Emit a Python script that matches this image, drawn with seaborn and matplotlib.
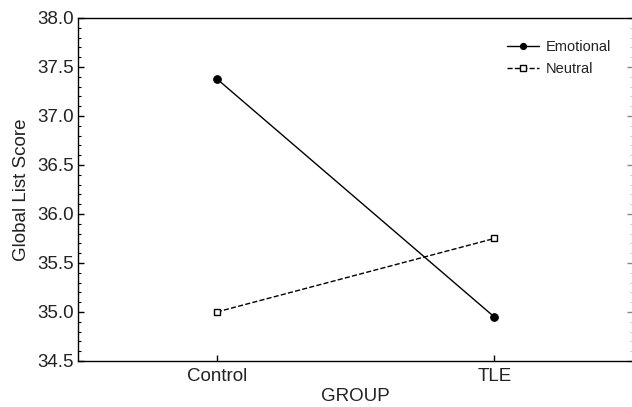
import matplotlib
matplotlib.use("Agg")
import matplotlib.pyplot as plt
import seaborn as sns
import pandas as pd
from matplotlib.ticker import MultipleLocator

groups = ["Control", "TLE"]
emotional = [37.38, 34.95]
neutral = [35.0, 35.75]

sns.set_theme(style="white")
plt.rcParams['font.family'] = ['Liberation Sans', 'DejaVu Sans']

fig = plt.figure(figsize=(6.32, 4.07), dpi=100)
ax = fig.add_axes([78/632, 1-361/407, (633-78)/632, (361-18)/407])

df_e = pd.DataFrame({"GROUP": groups, "score": emotional})
df_n = pd.DataFrame({"GROUP": groups, "score": neutral})

sns.lineplot(data=df_e, x="GROUP", y="score", ax=ax, color="black", lw=1,
             marker="o", markersize=5.5, markerfacecolor="black", markeredgecolor="black",
             label="Emotional", sort=False)
sns.lineplot(data=df_n, x="GROUP", y="score", ax=ax, color="black", lw=1,
             linestyle="--", dashes=(5, 3), marker="s", markersize=5,
             markerfacecolor="white", markeredgecolor="black", markeredgewidth=1,
             label="Neutral", sort=False)

ax.set_xlim(-0.5, 1.5)
ax.set_ylim(34.5, 38.0)
ax.yaxis.set_major_locator(MultipleLocator(0.5))
ax.yaxis.set_minor_locator(MultipleLocator(0.1))
ax.yaxis.set_major_formatter(matplotlib.ticker.FormatStrFormatter('%.1f'))

for s in ["left", "bottom", "top"]:
    ax.spines[s].set_visible(True)
    ax.spines[s].set_color("black")
    ax.spines[s].set_linewidth(1)
ax.spines["right"].set_visible(False)

ax.tick_params(axis="y", which="major", direction="in", length=4, width=1, color="black",
               left=True, right=False, labelsize=13.5, pad=3, labelcolor="#222222")
ax.tick_params(axis="y", which="minor", direction="in", length=2, width=0.8, color="black",
               left=True, right=False)
ax.tick_params(axis="x", which="major", direction="in", length=4, width=1, color="black",
               bottom=True, top=False, labelsize=13.5, pad=5, labelcolor="#222222")

# faint right-side ticks
ax2 = ax.secondary_yaxis("right")
ax2.spines["right"].set_visible(False)
ax2.yaxis.set_major_locator(MultipleLocator(0.5))
ax2.yaxis.set_minor_locator(MultipleLocator(0.1))
ax2.tick_params(axis="y", which="major", direction="in", length=4, width=1, color="#888888",
                labelright=False)
ax2.tick_params(axis="y", which="minor", direction="in", length=2, width=0.8, color="#cccccc")

ax.set_xlabel("GROUP", fontsize=13.5, color="#222222", labelpad=2)
ax.set_ylabel("Global List Score", fontsize=13.5, color="#222222", labelpad=5)

leg = ax.legend(loc="upper right", bbox_to_anchor=(0.985, 0.975), frameon=False, fontsize=10.5,
                handlelength=2.2, handletextpad=0.5, labelspacing=0.6, markerscale=0.8)
for t in leg.get_texts():
    t.set_color("#222222")

fig.savefig("out.png", dpi=100)
